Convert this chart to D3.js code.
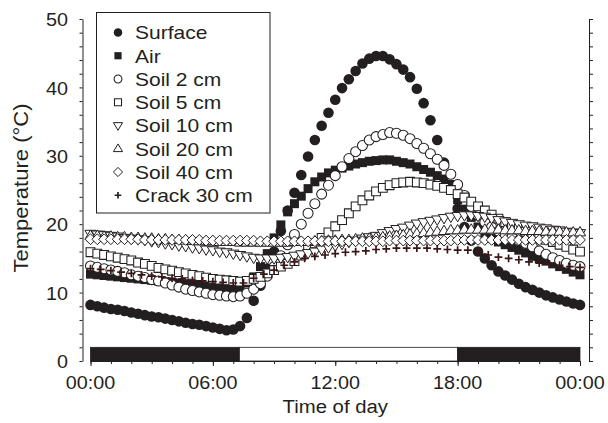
<!DOCTYPE html>
<html><head><meta charset="utf-8">
<script src="https://cdn.jsdelivr.net/npm/d3@7/dist/d3.min.js"></script>
<style>html,body{margin:0;padding:0;background:#fff;} svg{display:block;}</style>
</head><body>
<svg id="chart" width="608" height="423"></svg>
<script>
// ---------------- DATA ----------------
// soil / air / surface loggers: one value every 20 min (00:00 .. 24:00)
// crack logger: one value every 30 min (00:00 .. 24:00)
const sampleMinutes = 20;
const crackSampleMinutes = 30;
const seriesNames = ["Surface","Air","Soil 2 cm","Soil 5 cm","Soil 10 cm","Soil 20 cm","Soil 40 cm","Crack 30 cm"];

const surface = [
  8.2,8.0,7.8, 7.6,7.5,7.3, 7.1,6.9,6.7, 6.5,6.4,6.2, 6.0,5.8,5.6, 5.4,5.3,5.1, 4.9,4.7,4.5,
  4.6,5.1,6.3, 8.8,11.0,13.5, 16.0,19.0,22.0, 24.6,27.2,29.9, 32.3,34.4,36.3, 38.2,39.9,41.2,
  42.4,43.5,44.2, 44.6,44.6,44.1, 43.4,42.6,41.5, 39.8,37.7,35.2, 32.3,29.0,25.6, 22.3,19.6,17.6,
  16.0,15.0,14.0, 13.1,12.5,11.9, 11.3,10.8,10.4, 10.0,9.6,9.3, 9.0,8.7,8.4, 8.2];
const air = [
  12.7,12.6,12.5, 12.4,12.3,12.2, 12.1,12.0,11.9, 11.8,11.7,11.6, 11.5,11.4,11.3, 11.2,11.1,11.0, 10.9,10.8,10.7,
  10.5,10.6,11.4, 12.3,13.8,15.7, 18.0,19.9,21.8, 23.0,24.1,25.2, 26.2,26.9,27.5, 27.9,28.2,28.5,
  28.8,29.0,29.2, 29.3,29.4,29.4, 29.2,29.0,28.8, 28.4,28.0,27.6, 27.1,26.6,25.8, 23.6,22.2,21.0,
  19.6,18.6,17.9, 17.4,17.0,16.6, 16.2,15.8,15.3, 15.0,14.6,14.2, 13.8,13.4,13.0, 12.6];
const soil2 = [
  13.9,13.7,13.5, 13.3,13.1,12.9, 12.6,12.4,12.2, 11.9,11.7,11.4, 11.1,10.8,10.5, 10.3,10.1,9.9, 9.7,9.6,9.5,
  9.4,9.5,9.9, 10.5,11.3,12.4, 13.8,15.4,17.0, 18.5,20.0,21.6, 23.0,24.4,25.7, 27.1,28.4,29.6,
  30.6,31.5,32.3, 32.8,33.1,33.4, 33.3,33.0,32.5, 31.8,31.1,30.3, 29.5,28.6,27.3, 25.8,24.2,22.6,
  21.3,20.3,19.6, 19.0,18.5,18.1, 17.6,17.2,16.7, 16.1,15.6,15.1, 14.7,14.3,14.0, 13.8];
const soil5 = [
  15.9,15.7,15.5, 15.3,15.1,14.9, 14.7,14.4,14.2, 13.9,13.6,13.4, 13.2,13.0,12.8, 12.6,12.4,12.2, 12.0,11.9,11.8,
  11.7,11.6,11.7, 12.0,12.3,12.8, 13.3,13.8,14.2, 14.6,15.4,16.3, 17.2,18.0,18.8, 19.7,20.6,21.6,
  22.6,23.5,24.2, 24.8,25.3,25.7, 26.0,26.1,26.2, 26.1,26.0,25.8, 25.6,25.3,25.0, 24.4,23.9,23.3,
  22.6,22.0,21.4, 20.8,20.3,19.8, 19.3,18.9,18.5, 18.1,17.7,17.4, 17.0,16.7,16.3, 16.0];
const soil10 = [
  18.6,18.5,18.4, 18.3,18.2,18.0, 17.9,17.8,17.7, 17.5,17.4,17.2, 17.1,16.9,16.8, 16.6,16.5,16.3, 16.2,16.0,15.9,
  15.7,15.5,15.3, 15.1,15.0,15.0, 15.0,15.1,15.2, 15.4,15.6,15.8, 16.0,16.3,16.6, 16.9,17.1,17.4,
  17.6,17.9,18.1, 18.3,18.7,19.0, 19.3,19.5,19.8, 20.1,20.3,20.5, 20.7,20.9,21.1, 21.2,21.3,21.3,
  21.2,21.1,20.9, 20.6,20.4,20.2, 20.0,19.8,19.7, 19.5,19.4,19.2, 19.1,18.9,18.8, 18.7];
const soil20 = [
  18.3,18.3,18.2, 18.2,18.1,18.1, 18.0,18.0,17.9, 17.9,17.8,17.8, 17.7,17.7,17.6, 17.6,17.5,17.5, 17.5,17.4,17.4,
  17.4,17.3,17.3, 17.3,17.3,17.3, 17.3,17.3,17.3, 17.4,17.4,17.4, 17.5,17.5,17.6, 17.6,17.7,17.7,
  17.8,17.9,17.9, 18.0,18.1,18.2, 18.3,18.4,18.5, 18.6,18.7,18.8, 18.9,19.0,19.1, 19.1,19.2,19.2,
  19.2,19.2,19.2, 19.2,19.1,19.1, 19.1,19.0,19.0, 19.0,18.9,18.9, 18.9,18.8,18.8, 18.8];
const soil40 = [
  17.8,17.8,17.8, 17.8,17.8,17.8, 17.8,17.8,17.7, 17.7,17.7,17.7, 17.7,17.7,17.7, 17.7,17.7,17.6, 17.6,17.6,17.6,
  17.6,17.6,17.6, 17.6,17.5,17.5, 17.5,17.5,17.5, 17.5,17.5,17.5, 17.5,17.5,17.5, 17.5,17.5,17.5,
  17.5,17.5,17.5, 17.5,17.5,17.6, 17.6,17.6,17.6, 17.6,17.6,17.6, 17.6,17.6,17.6, 17.7,17.7,17.7,
  17.7,17.7,17.7, 17.7,17.7,17.7, 17.7,17.7,17.7, 17.7,17.7,17.7, 17.7,17.7,17.7, 17.7];
const crack30 = [
  13.5,13.4, 13.2,13.0, 12.8,12.6, 12.4,12.3, 12.1,12.0, 11.8,11.7, 11.6,11.5, 11.4,11.4,
  12.1,12.7, 13.3,14.0, 14.5,15.0, 15.3,15.5, 15.7,15.9, 16.0,16.1, 16.3,16.4, 16.5,16.5,
  16.5,16.5, 16.4,16.3, 16.2,16.2, 16.0,15.5, 15.2,15.0, 14.8,14.5, 14.3,14.2, 14.0,13.8, 13.7];

const seriesValues = [surface, air, soil2, soil5, soil10, soil20, soil40, crack30];
const seriesStep = [sampleMinutes, sampleMinutes, sampleMinutes, sampleMinutes, sampleMinutes, sampleMinutes, sampleMinutes, crackSampleMinutes];
const seriesMarkers = ["circleFilled","squareFilled","circleOpen","squareOpen","triDown","triUp","diamond","plus"];

const yTickValues = [0,10,20,30,40,50];
const xTickHours = [0,6,12,18,24];
const xTickLabels = ["00:00","06:00","12:00","18:00","00:00"];
const lightBar = [ {start:0, end:7.3, dark:true}, {start:7.3, end:18, dark:false}, {start:18, end:24, dark:true} ];
const xTitle = "Time of day";
const yTitle = "Temperature (\u00B0C)";

// ---------------- DRAWING ----------------
const INK = "#231f20";
const FONT = "'Liberation Sans', Arial, Helvetica, sans-serif";
const SX = 1.13; // horizontal stretch of the original typeface

const svg = d3.select("#chart");
const x = d3.scaleLinear().domain([0,24]).range([90.5,580]);
const y = d3.scaleLinear().domain([0,50]).range([361,19]);

function sText(parent, str, tx, ty, size, anchor, rot) {
  const g = parent.append("g").attr("transform",
    `translate(${tx},${ty})` + (rot ? ` rotate(${rot})` : "") + ` scale(${SX},1)`);
  g.append("text").text(str)
    .attr("font-family", FONT).attr("font-size", size)
    .attr("text-anchor", anchor).attr("fill", INK);
  return g;
}

// custom symbol types for d3.symbol (size = radius-like parameter)
const symTypes = {
  circle: { draw(c, s) { c.moveTo(s, 0); c.arc(0, 0, s, 0, 2*Math.PI); } },
  square: { draw(c, s) { c.rect(-s, -s, 2*s, 2*s); } },
  triDown: { draw(c, s) { c.moveTo(-s, -0.62*s); c.lineTo(s, -0.62*s); c.lineTo(0, 1.05*s); c.closePath(); } },
  triUp: { draw(c, s) { c.moveTo(-s, 0.62*s); c.lineTo(s, 0.62*s); c.lineTo(0, -1.05*s); c.closePath(); } },
  diamond: { draw(c, s) { c.moveTo(0, -s); c.lineTo(s, 0); c.lineTo(0, s); c.lineTo(-s, 0); c.closePath(); } },
  plus: { draw(c, s) { c.moveTo(-s, 0); c.lineTo(s, 0); c.moveTo(0, -s); c.lineTo(0, s); } }
};
const markerStyle = {
  circleFilled: {type:"circle", size:5.3, fill:INK, stroke:"none", sw:0},
  squareFilled: {type:"square", size:4.5, fill:INK, stroke:"none", sw:0},
  circleOpen:   {type:"circle", size:5.0, fill:"#fff", stroke:INK, sw:1.05},
  squareOpen:   {type:"square", size:4.4, fill:"#fff", stroke:INK, sw:1.05},
  triDown:      {type:"triDown", size:5.6, fill:"#fff", stroke:INK, sw:1.0},
  triUp:        {type:"triUp", size:5.6, fill:"#fff", stroke:INK, sw:1.0},
  diamond:      {type:"diamond", size:5.4, fill:"#fff", stroke:INK, sw:1.0},
  plus:         {type:"plus", size:3.9, fill:"none", stroke:"#3a1616", sw:1.7}
};
const legendScale = { circleFilled:0.8, squareFilled:0.8, circleOpen:0.78, squareOpen:0.8, triDown:0.82, triUp:0.82, diamond:0.85, plus:0.85 };

function markerPath(key, k) {
  const st = markerStyle[key];
  return d3.symbol().type(symTypes[st.type]).size(st.size * (k || 1))();
}

// light / dark bar
svg.append("g").selectAll("rect").data(lightBar).join("rect")
  .attr("x", d => x(d.start)).attr("width", d => x(d.end) - x(d.start))
  .attr("y", y(2)).attr("height", y(0) - y(2))
  .attr("fill", d => d.dark ? INK : "#fff")
  .attr("stroke", INK).attr("stroke-width", 0.8);

// axes
const yMinor = d3.range(0, 51, 2);
const leftAxis = svg.append("g").attr("transform", "translate(82.5,0)")
  .call(d3.axisLeft(y).tickValues(yMinor).tickSize(3).tickSizeOuter(0).tickFormat(""));
const rightAxis = svg.append("g").attr("transform", "translate(589,0)")
  .call(d3.axisRight(y).tickValues(yMinor).tickSize(4).tickSizeOuter(0).tickFormat(""));
const bottomMinor = svg.append("g").attr("transform", `translate(0,${y(0)})`)
  .call(d3.axisBottom(x).tickValues(d3.range(0, 25, 1)).tickSize(3).tickSizeOuter(0).tickFormat(""));
const bottomMajor = svg.append("g").attr("transform", `translate(0,${y(0)})`)
  .call(d3.axisBottom(x).tickValues(xTickHours).tickSize(5).tickSizeOuter(0).tickFormat(""));
[leftAxis, rightAxis, bottomMinor, bottomMajor].forEach(a => {
  a.selectAll("path,line").attr("stroke", INK).attr("stroke-width", 1);
});

// tick labels
yTickValues.forEach(v => sText(svg, String(v), 68, y(v) + 7.2, 17.5, "end"));
xTickHours.forEach((h, i) => sText(svg, xTickLabels[i], x(h), 389, 17.5, "middle"));

// axis titles
sText(svg, xTitle, (x(0) + x(24)) / 2, 413, 18, "middle");
sText(svg, yTitle, 28, (y(0) + y(50)) / 2 - 2, 19.5, "middle", -90);

// data markers
seriesValues.forEach((vals, si) => {
  const key = seriesMarkers[si];
  const st = markerStyle[key];
  const step = seriesStep[si] / 60;
  svg.append("g").attr("class", "series")
    .selectAll("path").data(vals).join("path")
    .attr("transform", (d, i) => `translate(${x(i * step)},${y(d)})`)
    .attr("d", markerPath(key))
    .attr("fill", st.fill).attr("stroke", st.stroke).attr("stroke-width", st.sw);
});

// legend
const legend = svg.append("g");
legend.append("rect").attr("x", 96.5).attr("y", 12.5).attr("width", 173.5).attr("height", 200.5)
  .attr("fill", "#fff").attr("stroke", INK).attr("stroke-width", 1);
seriesNames.forEach((name, i) => {
  const cy = 32.5 + i * 23.25;
  const key = seriesMarkers[i];
  const st = markerStyle[key];
  legend.append("path").attr("transform", `translate(118,${cy})`)
    .attr("d", markerPath(key, legendScale[key]))
    .attr("fill", st.fill).attr("stroke", key === "plus" ? INK : st.stroke).attr("stroke-width", st.sw);
  sText(legend, name, 135, cy + 6.8, 18.6, "start");
});
</script>
</body></html>
